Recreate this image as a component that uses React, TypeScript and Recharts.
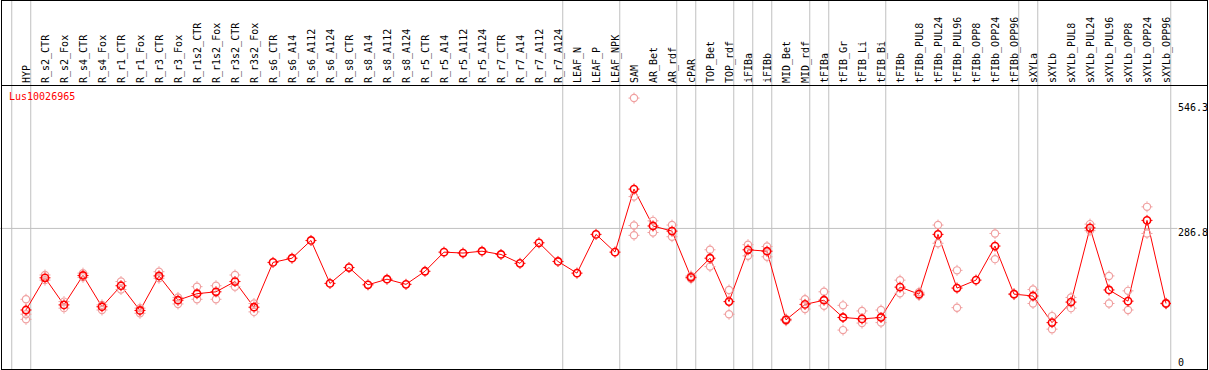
import React from 'react';
import { ComposedChart, Line, XAxis, YAxis, ReferenceLine } from 'recharts';

const N = null;

const categories = [
  'HYP', 'R_s2_CTR', 'R_s2_Fox', 'R_s4_CTR', 'R_s4_Fox', 'R_r1_CTR', 'R_r1_Fox', 'R_r3_CTR', 'R_r3_Fox',
  'R_r1s2_CTR', 'R_r1s2_Fox', 'R_r3s2_CTR', 'R_r3s2_Fox', 'R_s6_CTR', 'R_s6_A14', 'R_s6_A112', 'R_s6_A124',
  'R_s8_CTR', 'R_s8_A14', 'R_s8_A112', 'R_s8_A124', 'R_r5_CTR', 'R_r5_A14', 'R_r5_A112', 'R_r5_A124',
  'R_r7_CTR', 'R_r7_A14', 'R_r7_A112', 'R_r7_A124', 'LEAF_N', 'LEAF_P', 'LEAF_NPK', 'SAM', 'AR_Bet', 'AR_rdf',
  'cPAR', 'TOP_Bet', 'TOP_rdf', 'iFIBa', 'iFIBb', 'MID_Bet', 'MID_rdf', 'tFIBa', 'tFIB_Gr', 'tFIB_Li', 'tFIB_Bi',
  'tFIBb', 'tFIBb_PUL8', 'tFIBb_PUL24', 'tFIBb_PUL96', 'tFIBb_OPP8', 'tFIBb_OPP24', 'tFIBb_OPP96',
  'sXYLa', 'sXYLb', 'sXYLb_PUL8', 'sXYLb_PUL24', 'sXYLb_PUL96', 'sXYLb_OPP8', 'sXYLb_OPP24', 'sXYLb_OPP96',
];

// mean expression per sample
const meanValues = [
  112, 181, 123, 186, 119, 164, 111, 185, 133, 147, 151, 173, 118, 214, 223, 261, 169,
  203, 166, 178, 167, 195, 236, 234, 238, 231, 212, 256, 216, 191, 274, 236, 371, 292, 281,
  182, 223, 130, 241, 238, 91, 124, 133, 96, 93, 96, 161, 146, 274, 159, 176, 249, 146,
  142, 85, 129, 288, 155, 131, 304, 126,
];

// individual replicates
const repA = [
  135, 187, 130, 191, 123, 173, 116, 194, 139, 162, 164, 187, 126, N, N, N, N,
  N, N, N, N, N, N, N, N, N, N, N, N, N, N, N, 566, 303, 294,
  185, 241, 155, 252, 248, 93, 135, 151, 122, 110, 112, 176, 150, 294, 197, N, 276, 147,
  156, 99, 139, 296, 185, 153, 333, 127,
];
const repB = [
  103, 176, 116, 182, 112, 156, 105, 180, 125, 135, 135, 162, 108, N, N, N, N,
  N, N, N, N, N, N, N, N, N, N, N, N, N, N, N, 355, 278, 269,
  179, 205, 103, 228, 226, 89, 114, 121, 69, 84, 85, 148, 143, 255, 117, N, 221, 145,
  126, 71, 116, 282, 126, 112, 276, 125,
];
const repC = categories.map((c) => (c === 'HYP' ? 92 : c === 'SAM' ? 293 : N));
const repD = categories.map((c) => (c === 'SAM' ? 272 : N));

const yTicks = [0, 286.8, 546.3];
const groupEnds = [0, 1, 29, 32, 35, 36, 38, 39, 40, 42, 43, 46, 53, 54, 61];

const X_MIN = -0.263;
const X_MAX = 61.263;
const Y_MIN = -14.35;
const Y_MAX = 594;
const Y_HEADER_TOP = 776;

const data = categories.map((name, i) => ({
  idx: i + 1,
  name,
  mean: meanValues[i],
  repA: repA[i],
  repB: repB[i],
  repC: repC[i],
  repD: repD[i],
}));

const FONT = '"DejaVu Sans Mono", monospace';
const RED = '#ff0000';
const PINK = '#f0a0a0';
const GRID = '#c0c0c0';

const Marker = ({ cx, cy, color, width }: any) => (
  <g>
    <circle cx={cx} cy={cy} r={3.6} fill="none" stroke={color} strokeWidth={width} />
    <line x1={cx} y1={cy - 5.5} x2={cx} y2={cy - 4} stroke={color} strokeWidth={1} />
    <line x1={cx} y1={cy + 4} x2={cx} y2={cy + 5.5} stroke={color} strokeWidth={1} />
    <line x1={cx - 5.5} y1={cy} x2={cx - 4} y2={cy} stroke={color} strokeWidth={1} />
    <line x1={cx + 4} y1={cy} x2={cx + 5.5} y2={cy} stroke={color} strokeWidth={1} />
  </g>
);

const makeDot = (color: string, width: number) => (props: any) => {
  const { cx, cy, value, index } = props;
  if (value == null || cy == null || isNaN(cy)) return <g key={`d-${index}`} />;
  return <Marker key={`d-${index}`} cx={cx} cy={cy} color={color} width={width} />;
};

const HeaderTick = (props: any) => {
  const { x, payload } = props;
  const label = categories[payload.value - 1];
  const tx = x + 4;
  return (
    <text
      x={tx}
      y={83}
      transform={`rotate(-90, ${tx}, 83)`}
      fontFamily={FONT}
      fontSize={10}
      fill="#000"
      textAnchor="start"
    >
      {label}
    </text>
  );
};

const ValueTick = (props: any) => {
  const { y, payload } = props;
  // the middle label sits just under its grid line
  const dy = payload.value === 286.8 ? 7.5 : 3.5;
  return (
    <text x={1178} y={y} dy={dy} fontFamily={FONT} fontSize={10} fill="#000" textAnchor="start">
      {payload.value}
    </text>
  );
};

export default function App() {
  return (
    <div style={{ position: 'absolute', left: 0, top: 0, width: 1209, height: 370, background: '#fff' }}>
      <ComposedChart
        width={1209}
        height={370}
        data={data}
        margin={{ top: 0, right: 2, bottom: 1, left: 2 }}
      >
        <XAxis
          dataKey="idx"
          type="number"
          orientation="top"
          height={85}
          domain={[X_MIN, X_MAX]}
          allowDataOverflow
          ticks={data.map((d) => d.idx)}
          interval={0}
          axisLine={false}
          tickLine={false}
          tick={<HeaderTick />}
        />
        <YAxis
          type="number"
          orientation="right"
          width={36}
          domain={[Y_MIN, Y_MAX]}
          allowDataOverflow
          ticks={yTicks}
          interval={0}
          axisLine={false}
          tickLine={false}
          tick={<ValueTick />}
        />
        {groupEnds.map((g) => (
          <ReferenceLine
            key={`sep-${g}`}
            segment={[
              { x: g + 0.25, y: Y_MIN },
              { x: g + 0.25, y: Y_HEADER_TOP },
            ]}
            ifOverflow="visible"
            stroke={GRID}
            strokeWidth={1}
          />
        ))}
        <ReferenceLine
          segment={[
            { x: X_MIN - 0.1, y: 286.8 },
            { x: 61.6, y: 286.8 },
          ]}
          ifOverflow="visible"
          stroke={GRID}
          strokeWidth={1}
        />
        <Line dataKey="repA" stroke="none" dot={makeDot(PINK, 1.2)} activeDot={false} isAnimationActive={false} />
        <Line dataKey="repB" stroke="none" dot={makeDot(PINK, 1.2)} activeDot={false} isAnimationActive={false} />
        <Line dataKey="repC" stroke="none" dot={makeDot(PINK, 1.2)} activeDot={false} isAnimationActive={false} />
        <Line dataKey="repD" stroke="none" dot={makeDot(PINK, 1.2)} activeDot={false} isAnimationActive={false} />
        <Line
          dataKey="mean"
          stroke={RED}
          strokeWidth={1}
          dot={makeDot(RED, 1.6)}
          activeDot={false}
          isAnimationActive={false}
        />
      </ComposedChart>
      <div
        style={{
          position: 'absolute',
          left: 9,
          top: 91,
          fontFamily: FONT,
          fontSize: 10,
          lineHeight: '12px',
          color: RED,
        }}
      >
        Lus10026965
      </div>
      <div style={{ position: 'absolute', left: 1, top: 85, width: 1207, height: 1, background: '#000' }} />
      <div
        style={{
          position: 'absolute',
          left: 1,
          top: 0,
          width: 1207,
          height: 370,
          border: '1px solid #000',
          boxSizing: 'border-box',
          pointerEvents: 'none',
        }}
      />
    </div>
  );
}
